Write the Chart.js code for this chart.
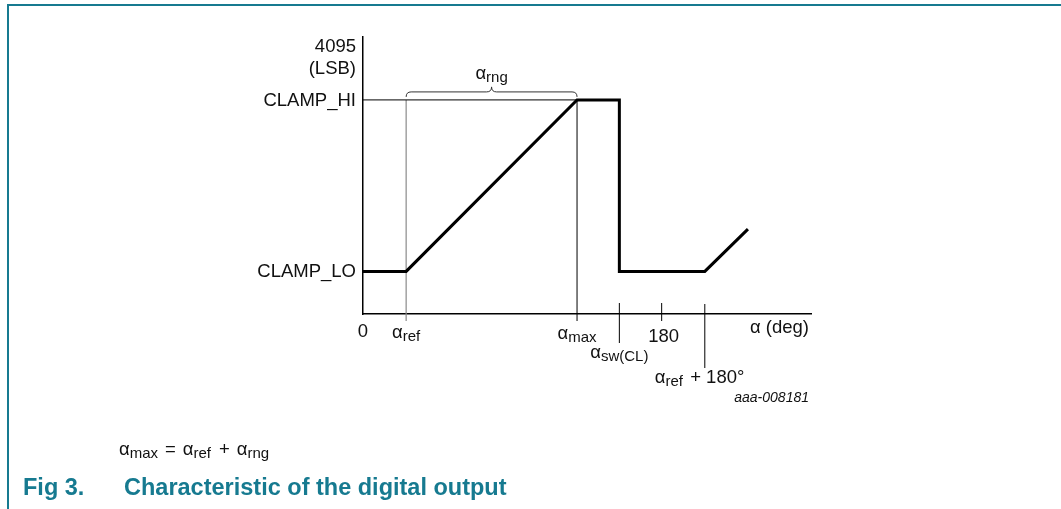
<!DOCTYPE html>
<html>
<head>
<meta charset="utf-8">
<script src="https://cdn.jsdelivr.net/npm/chart.js@4.4.1/dist/chart.umd.min.js"></script>
<style>
  html, body { margin: 0; padding: 0; background: #fff; }
  canvas { display: block; }
</style>
</head>
<body>
<canvas id="digitalOutputChart" width="1061" height="509"></canvas>
<script>
// angles in degrees, output in LSB (schematic)
var angles = [0, 26, 129, 154.5, 154.5, 206, 232];
var output = [630, 630, 3165, 3165, 630, 630, 1255];

var CLAMP_HI = 3165;
var CLAMP_LO = 630;
var ALPHA_REF = 26;
var ALPHA_MAX = 129;
var ALPHA_SW = 154.5;
var xTicks = [180];

var TEAL = "#167a90";
var MAIN_FONT = "18.5px 'Liberation Sans', Arial, sans-serif";
var SUB_FONT = "15px 'Liberation Sans', Arial, sans-serif";

var outputPoints = angles.map(function (a, i) {
  return { x: a, y: output[i] };
});

// parts: [text, isSub] or a number for a fixed gap in px
function partWidth(ctx, p) {
  if (typeof p === "number") return p;
  ctx.font = p[1] ? SUB_FONT : MAIN_FONT;
  return ctx.measureText(p[0]).width;
}

function subText(ctx, x, y, parts, align) {
  var w = 0;
  parts.forEach(function (p) {
    w += partWidth(ctx, p);
  });
  var cx = x;
  if (align === "center") cx = x - w / 2;
  if (align === "right") cx = x - w;
  ctx.textAlign = "left";
  parts.forEach(function (p) {
    var pw = partWidth(ctx, p);
    if (typeof p !== "number") ctx.fillText(p[0], cx, y + (p[1] ? 3 : 0));
    cx += pw;
  });
}

function vline(ctx, x, y1, y2, color, width) {
  ctx.beginPath();
  ctx.strokeStyle = color;
  ctx.lineWidth = width;
  ctx.moveTo(x, y1);
  ctx.lineTo(x, y2);
  ctx.stroke();
}

var annotations = {
  id: "annotations",
  beforeDraw: function (chart) {
    var ctx = chart.ctx;
    ctx.save();
    ctx.fillStyle = "#fff";
    ctx.fillRect(0, 0, chart.width, chart.height);
    // page frame
    ctx.strokeStyle = TEAL;
    ctx.lineWidth = 2;
    ctx.beginPath();
    ctx.moveTo(chart.width, 5);
    ctx.lineTo(8, 5);
    ctx.lineTo(8, chart.height);
    ctx.stroke();
    ctx.restore();
  },
  beforeDatasetsDraw: function (chart) {
    var ctx = chart.ctx;
    var xs = chart.scales.x;
    var ys = chart.scales.y;
    var yHi = ys.getPixelForValue(CLAMP_HI);
    var yAxis = ys.getPixelForValue(0);
    ctx.save();
    // reference lines and ticks
    vline(ctx, xs.getPixelForValue(ALPHA_REF), yHi, yAxis + 7, "#8a8a8a", 1.2);
    vline(ctx, xs.getPixelForValue(ALPHA_MAX), yHi, yAxis + 7, "#000", 1);
    vline(ctx, xs.getPixelForValue(ALPHA_SW), yAxis - 11, yAxis + 29, "#000", 1);
    xTicks.forEach(function (t) {
      vline(ctx, xs.getPixelForValue(t), yAxis - 11, yAxis + 7, "#000", 1);
    });
    vline(ctx, xs.getPixelForValue(ALPHA_REF + 180), yAxis - 10, yAxis + 54, "#000", 1);
    ctx.restore();
  },
  afterDraw: function (chart) {
    var ctx = chart.ctx;
    var xs = chart.scales.x;
    var ys = chart.scales.y;
    var yHi = ys.getPixelForValue(CLAMP_HI);
    var yLo = ys.getPixelForValue(CLAMP_LO);
    var yAxis = ys.getPixelForValue(0);
    var xRef = xs.getPixelForValue(ALPHA_REF);
    var xMax = xs.getPixelForValue(ALPHA_MAX);
    var labX = xs.left - 7;
    ctx.save();
    ctx.fillStyle = "#111";
    ctx.textBaseline = "alphabetic";

    // y labels
    ctx.font = MAIN_FONT;
    ctx.textAlign = "right";
    ctx.fillText("4095", labX, 52);
    ctx.fillText("(LSB)", labX, 74);
    ctx.fillText("CLAMP_HI", labX, yHi + 6);
    ctx.fillText("CLAMP_LO", labX, yLo + 6);

    // x labels
    ctx.textAlign = "center";
    ctx.fillText("0", xs.getPixelForValue(0), yAxis + 23);
    xTicks.forEach(function (t) {
      ctx.fillText(String(t), xs.getPixelForValue(t) + 2, yAxis + 28);
    });
    subText(ctx, xRef, yAxis + 24, [["α", 0], ["ref", 1]], "center");
    subText(ctx, xMax, yAxis + 25, [["α", 0], ["max", 1]], "center");
    subText(ctx, xs.getPixelForValue(ALPHA_SW), yAxis + 44, [["α", 0], ["sw(CL)", 1]], "center");
    subText(ctx, xs.getPixelForValue(ALPHA_REF + 180) - 50, yAxis + 69,
      [["α", 0], ["ref", 1], 2, [" + 180°", 0]], "left");
    ctx.font = MAIN_FONT;
    ctx.textAlign = "right";
    ctx.fillText("α (deg)", xs.right - 2, yAxis + 19);
    ctx.font = "italic 14px 'Liberation Sans', Arial, sans-serif";
    ctx.fillText("aaa-008181", xs.right - 2, yAxis + 88);

    // brace for alpha_rng
    ctx.strokeStyle = "#333";
    ctx.lineWidth = 1;
    var mid = (xRef + xMax) / 2;
    ctx.beginPath();
    ctx.moveTo(xRef, yHi - 3);
    ctx.quadraticCurveTo(xRef, yHi - 8, xRef + 5, yHi - 8);
    ctx.lineTo(mid - 5, yHi - 8);
    ctx.quadraticCurveTo(mid, yHi - 8, mid, yHi - 13);
    ctx.quadraticCurveTo(mid, yHi - 8, mid + 5, yHi - 8);
    ctx.lineTo(xMax - 5, yHi - 8);
    ctx.quadraticCurveTo(xMax, yHi - 8, xMax, yHi - 3);
    ctx.stroke();
    subText(ctx, mid, yHi - 21, [["α", 0], ["rng", 1]], "center");

    // formula below the chart
    subText(ctx, 119, 455, [["α", 0], ["max", 1], 7, ["=", 0], 7, ["α", 0], ["ref", 1],
      8, ["+", 0], 7, ["α", 0], ["rng", 1]], "left");

    // figure caption
    ctx.fillStyle = TEAL;
    ctx.textAlign = "left";
    ctx.font = "bold 23.5px 'Liberation Sans', Arial, sans-serif";
    ctx.fillText("Fig 3.", 23, 495);
    ctx.fillText("Characteristic of the digital output", 124, 495);
    ctx.restore();
  },
};

var canvas = document.getElementById("digitalOutputChart");
var chart = new Chart(canvas.getContext("2d"), {
  type: "scatter",
  data: {
    datasets: [
      {
        data: [{ x: 0, y: CLAMP_HI }, { x: ALPHA_MAX, y: CLAMP_HI }],
        showLine: true,
        borderColor: "#000",
        borderWidth: 1,
        pointRadius: 0,
      },
      {
        data: outputPoints,
        showLine: true,
        borderColor: "#000",
        borderWidth: 3,
        borderJoinStyle: "miter",
        pointRadius: 0,
      },
    ],
  },
  options: {
    responsive: false,
    animation: false,
    events: [],
    layout: { padding: { left: 363, right: 250, top: 37, bottom: 195 } },
    plugins: { legend: { display: false }, tooltip: { enabled: false } },
    scales: {
      x: {
        type: "linear",
        min: 0,
        max: 270,
        grid: { display: false, drawTicks: false },
        ticks: { display: false },
        border: { color: "#000", width: 1.5 },
      },
      y: {
        type: "linear",
        min: 0,
        max: 4095,
        grid: { display: false, drawTicks: false },
        ticks: { display: false },
        border: { color: "#000", width: 1.5 },
      },
    },
  },
  plugins: [annotations],
});
</script>
</body>
</html>
